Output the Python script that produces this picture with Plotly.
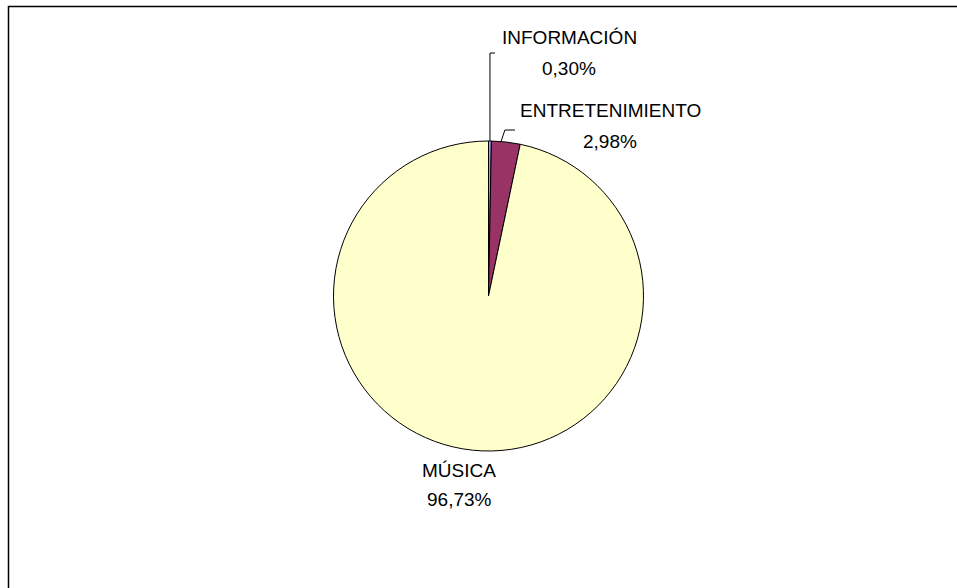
import math
import plotly.graph_objects as go

# Data
categories = ["INFORMACIÓN", "ENTRETENIMIENTO", "MÚSICA"]
values = [0.30, 2.98, 96.73]
colors = ["#9999FF", "#993366", "#FFFFCC"]

W, H = 957, 588
cx, cy, R = 488.5, 296.0, 155.0  # pie centre / radius in px

def px(x):
    return x / W

def py(y):
    return 1 - y / H

fig = go.Figure()
fig.add_trace(go.Pie(
    labels=categories,
    values=values,
    sort=False,
    direction="clockwise",
    rotation=0,
    marker=dict(colors=colors, line=dict(color="black", width=1)),
    textinfo="none",
    hoverinfo="label+percent",
    showlegend=False,
    domain=dict(x=[px(cx - R), px(cx + R)], y=[py(cy + R), py(cy - R)]),
))

# label placement (layout, in px)
label_pos = {
    "INFORMACIÓN": (569, 37, 68),
    "ENTRETENIMIENTO": (610, 110.5, 141),
    "MÚSICA": (459, 470, 500),
}
# leader line elbows (px): (elbow_x_offset, elbow_y, end_x)
leaders = {
    "INFORMACIÓN": (0, 53, 495),
    "ENTRETENIMIENTO": (4, 130, 515),
}

font = dict(family="Liberation Sans, Arial, sans-serif", size=19, color="black")
total = sum(values)
cum = 0.0
annotations = []
shapes = []
for name, v in zip(categories, values):
    mid = (cum + v / 2) / total * 2 * math.pi
    cum += v
    pct = f"{v:.2f}%".replace(".", ",")
    lx, ly1, ly2 = label_pos[name]
    annotations.append(dict(x=px(lx), y=py(ly1), xref="paper", yref="paper",
                            text=name, showarrow=False, font=font,
                            xanchor="center", yanchor="middle"))
    annotations.append(dict(x=px(lx), y=py(ly2), xref="paper", yref="paper",
                            text=pct, showarrow=False, font=font,
                            xanchor="center", yanchor="middle"))
    if name in leaders:
        ex = cx + R * math.sin(mid)
        ey = cy - R * math.cos(mid)
        if name == "ENTRETENIMIENTO":
            ex -= 5
        dx, ey2, endx = leaders[name]
        ex2 = ex + dx
        path = f"M {px(ex)},{py(ey)} L {px(ex2)},{py(ey2)} L {px(endx)},{py(ey2)}"
        shapes.append(dict(type="path", xref="paper", yref="paper", path=path,
                           line=dict(color="black", width=1)))

# outer frame
shapes.append(dict(type="rect", xref="paper", yref="paper",
                   x0=px(8.5), x1=1.02, y0=-0.02, y1=py(6.5),
                   line=dict(color="black", width=1.5), fillcolor="rgba(0,0,0,0)"))

fig.update_layout(
    width=W, height=H,
    margin=dict(l=0, r=0, t=0, b=0),
    paper_bgcolor="white", plot_bgcolor="white",
    annotations=annotations,
    shapes=shapes,
)

fig.write_html(
    "out.html",
    config={"displayModeBar": False},
    post_script="document.body.style.margin='0';document.body.style.overflow='hidden';",
)
